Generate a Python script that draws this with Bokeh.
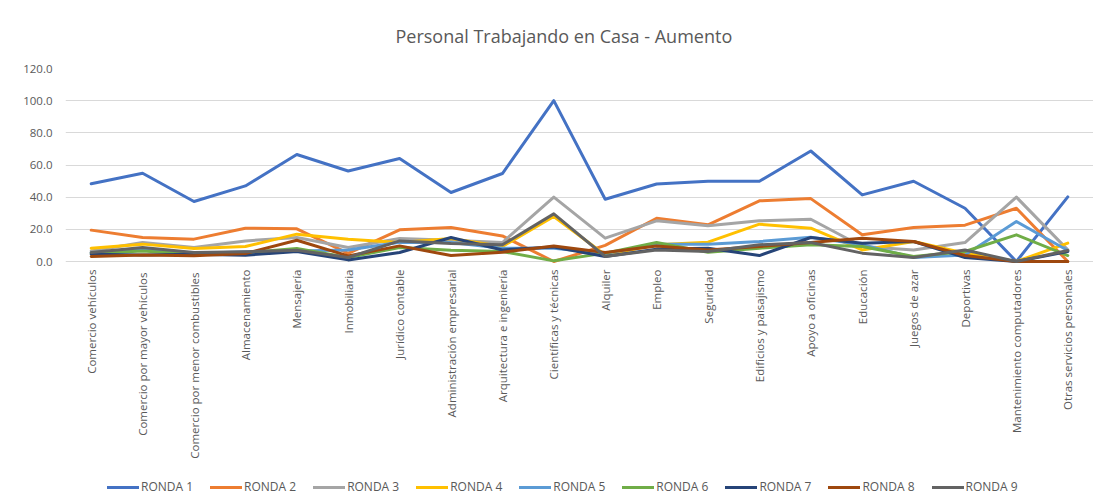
import math
from bokeh.plotting import figure
from bokeh.models import Legend, LegendItem, NumeralTickFormatter, Range1d, FixedTicker
from bokeh.embed import file_html
from bokeh.resources import INLINE
from bokeh.core.properties import value

categories = [
    "Comercio vehículos",
    "Comercio  por mayor vehículos",
    "Comercio  por menor combustibles",
    "Almacenamiento",
    "Mensajería",
    "Inmobiliaria",
    "Jurídico contable",
    "Administración empresarial",
    "Arquitectura e ingeniería",
    "Científicas y técnicas",
    "Alquiler",
    "Empleo",
    "Seguridad",
    "Edificios y paisajismo",
    "Apoyo a oficinas",
    "Educación",
    "Juegos de azar",
    "Deportivas",
    "Mantenimiento computadores",
    "Otras servicios personales",
]

ronda1 = [48.4, 54.9, 37.3, 47.0, 66.5, 56.3, 64.0, 42.9, 54.7, 100.0, 38.7, 48.2, 49.9, 49.9, 68.7, 41.4, 49.9, 33.1, 0.0, 40.2]
ronda2 = [19.5, 14.9, 13.9, 20.7, 20.3, 5.0, 19.7, 21.1, 15.9, 0.0, 10.0, 26.9, 22.8, 37.7, 39.1, 16.6, 21.1, 22.6, 33.1, 0.0]
ronda3 = [6.5, 11.8, 8.7, 12.8, 14.9, 8.7, 14.3, 13.2, 11.8, 40.0, 14.5, 25.3, 22.2, 25.3, 26.3, 9.3, 7.2, 11.8, 40.0, 7.2]
ronda4 = [8.3, 10.8, 8.1, 9.3, 17.0, 13.9, 11.8, 14.3, 9.3, 28.0, 4.1, 10.4, 12.0, 23.2, 20.7, 7.2, 12.4, 5.2, 0.0, 11.4]
ronda5 = [5.5, 7.7, 5.0, 6.0, 6.6, 7.2, 12.0, 11.8, 8.3, 8.3, 5.0, 10.8, 10.8, 12.4, 15.1, 10.4, 2.5, 4.1, 24.8, 6.8]
ronda6 = [5.0, 6.6, 4.5, 5.5, 8.1, 2.5, 8.7, 7.0, 6.2, 0.4, 5.2, 11.8, 5.8, 8.3, 10.4, 9.3, 3.1, 6.2, 16.6, 3.7]
ronda7 = [4.5, 4.1, 4.5, 3.9, 6.2, 1.0, 5.6, 14.9, 7.2, 9.0, 3.1, 7.7, 8.3, 3.7, 14.9, 11.4, 12.4, 2.5, 0.0, 6.2]
ronda8 = [3.1, 4.1, 3.5, 5.0, 13.2, 3.5, 9.7, 3.7, 5.8, 9.7, 5.6, 9.7, 7.2, 9.3, 11.8, 14.5, 12.4, 3.7, 0.0, 0.0]
ronda9 = [5.6, 8.7, 5.6, 6.0, 7.0, 2.5, 12.8, 11.2, 10.4, 29.6, 3.1, 7.2, 6.2, 10.4, 11.8, 5.2, 2.5, 7.2, 0.0, 6.8]

series_names = ["RONDA 1", "RONDA 2", "RONDA 3", "RONDA 4", "RONDA 5",
                "RONDA 6", "RONDA 7", "RONDA 8", "RONDA 9"]
series_values = [ronda1, ronda2, ronda3, ronda4, ronda5, ronda6, ronda7, ronda8, ronda9]
colors = ["#4472C4", "#ED7D31", "#A5A5A5", "#FFC000", "#5B9BD5",
          "#70AD47", "#264478", "#9E480E", "#636363"]
y_ticks = [0, 20, 40, 60, 80, 100, 120]

FONT = "Open Sans"
TXT = "#595959"

# Plot area: 0..120 spans 193 px; the frame extends below 0 to hold the
# category labels and legend.
Y_MAX = 120.0
PX_PER_UNIT = 193.0 / Y_MAX
FRAME_H = 432
Y_MIN = Y_MAX - FRAME_H / PX_PER_UNIT

p = figure(x_range=categories, y_range=Range1d(Y_MIN, Y_MAX),
           frame_width=1028, frame_height=FRAME_H,
           output_backend="svg", toolbar_location=None,
           min_border_left=65, min_border_right=0, min_border_top=68,
           min_border_bottom=0,
           title="Personal Trabajando en Casa - Aumento")

p.title.align = "left"
p.title.offset = 330
p.title.text_font = FONT
p.title.text_font_size = "18px"
p.title.text_font_style = "normal"
p.title.text_color = TXT
p.title.standoff = 41

p.outline_line_color = None
p.background_fill_color = "white"
p.border_fill_color = "white"

p.xgrid.grid_line_color = None
p.xaxis.visible = False

p.yaxis.ticker = FixedTicker(ticks=y_ticks)
p.ygrid.ticker = FixedTicker(ticks=y_ticks)
p.ygrid.grid_line_color = "#D9D9D9"
p.ygrid.grid_line_width = 1
p.yaxis.formatter = NumeralTickFormatter(format="0.0")
p.yaxis.axis_line_color = None
p.yaxis.major_tick_line_color = None
p.yaxis.minor_tick_line_color = None
p.yaxis.major_tick_out = 0
p.yaxis.major_tick_in = 0
p.yaxis.major_label_standoff = 13
p.yaxis.major_label_text_font = FONT
p.yaxis.major_label_text_font_size = "11.5px"
p.yaxis.major_label_text_color = TXT

# category labels, rotated, hanging below the 0 line
label_y = [-8.0 / PX_PER_UNIT] * len(categories)
p.text(x=categories, y=label_y, text=categories, angle=math.pi / 2,
       text_align="right", text_baseline="middle",
       text_font=value(FONT), text_font_size="11.5px", text_color=TXT)

items = []
for name, vals, col in zip(series_names, series_values, colors):
    r = p.line(x=categories, y=vals, line_color=col, line_width=3,
               line_join="round", line_cap="round")
    items.append(LegendItem(label=name, renderers=[r]))

legend = Legend(items=items, orientation="horizontal", location=(42, 5),
                border_line_color=None, background_fill_alpha=0,
                label_text_font=FONT, label_text_font_size="12px",
                label_text_color=TXT, glyph_width=32, glyph_height=12,
                spacing=17, padding=4, margin=0, label_standoff=2)
p.add_layout(legend, "center")

open("out.html", "w").write(file_html(p, INLINE))
